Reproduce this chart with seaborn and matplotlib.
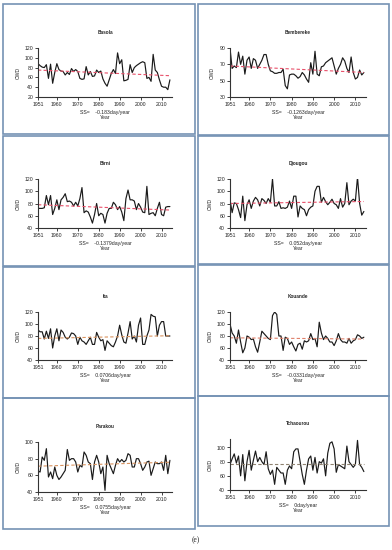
import numpy as np
import pandas as pd
import matplotlib
matplotlib.use("Agg")
import matplotlib.pyplot as plt
from matplotlib.patches import Rectangle
import seaborn as sns

# ---------------- data ----------------
years = list(range(1951, 2015))
stations = ["Basola", "Bembereke", "Birni", "Djougou", "Ita", "Kouande", "Parakou", "Tchaourou"]

basola = [88, 84, 81, 80, 86, 58, 87, 48, 70, 88,
          76, 73, 72, 65, 70, 66, 78, 72, 76, 72,
          58, 56, 57, 82, 65, 72, 62, 63, 75, 70,
          73, 57, 48, 42, 55, 68, 76, 68, 110, 88,
          96, 53, 54, 56, 86, 70, 80, 84, 87, 90,
          92, 90, 58, 60, 52, 107, 75, 70, 55, 42,
          40, 40, 35, 55]
bembereke = [90, 65, 68, 66, 85, 70, 80, 58, 75, 79,
             65, 77, 75, 65, 70, 75, 82, 82, 70, 62,
             61, 59, 59, 60, 60, 64, 44, 40, 57, 58,
             58, 56, 53, 55, 60, 57, 52, 48, 72, 58,
             86, 58, 56, 67, 68, 72, 74, 76, 78, 68,
             58, 65, 70, 78, 74, 65, 60, 79, 60, 52,
             54, 63, 57, 60]
birni = [72, 72, 72, 73, 93, 78, 93, 62, 72, 86,
         70, 86, 90, 96, 83, 84, 82, 76, 82, 76,
         88, 106, 65, 68, 66, 58, 48, 62, 80, 60,
         64, 62, 48, 64, 72, 72, 82, 78, 70, 75,
         66, 52, 88, 102, 86, 86, 84, 70, 80, 74,
         66, 65, 108, 62, 64, 65, 60, 72, 82, 62,
         60, 74, 75, 75]
djougou = [87, 65, 81, 80, 70, 57, 92, 52, 78, 86,
           72, 84, 90, 86, 76, 88, 85, 80, 88, 82,
           120, 76, 76, 83, 72, 73, 72, 74, 84, 72,
           92, 92, 58, 76, 72, 70, 60, 70, 74, 76,
           100, 108, 108, 82, 90, 83, 78, 82, 87, 80,
           78, 72, 88, 74, 80, 114, 78, 84, 87, 84,
           123, 80, 61, 67]
ita = [90, 87, 87, 75, 88, 76, 92, 60, 80, 92,
       72, 90, 86, 78, 75, 78, 85, 84, 80, 66,
       78, 72, 70, 66, 72, 78, 66, 66, 86, 78,
       72, 74, 56, 72, 68, 64, 62, 70, 80, 98,
       82, 70, 68, 85, 104, 75, 80, 70, 98, 110,
       66, 66, 80, 90, 116, 113, 112, 80, 98, 104,
       104, 80, 80, 80]
kouande = [100, 85, 80, 68, 90, 70, 52, 60, 80, 78,
           74, 75, 62, 53, 70, 88, 84, 80, 76, 74,
           114, 120, 116, 80, 80, 56, 78, 76, 66, 70,
           62, 55, 66, 68, 58, 72, 70, 72, 84, 74,
           76, 62, 103, 85, 74, 80, 76, 70, 70, 64,
           72, 84, 74, 70, 70, 68, 76, 68, 72, 74,
           82, 80, 76, 78]
parakou = [65, 64, 82, 78, 92, 58, 64, 56, 70, 60,
           55, 58, 62, 66, 91, 78, 80, 80, 76, 64,
           72, 70, 88, 84, 76, 74, 55, 76, 84, 76,
           62, 70, 42, 84, 74, 68, 62, 72, 80, 76,
           79, 76, 78, 86, 84, 70, 70, 80, 80, 74,
           66, 70, 76, 77, 60, 68, 76, 74, 74, 76,
           66, 84, 62, 78]
tchaourou = [76, 84, 91, 78, 88, 60, 90, 53, 80, 96,
             68, 82, 95, 80, 86, 80, 76, 94, 70, 62,
             68, 48, 72, 68, 64, 64, 48, 68, 74, 70,
             94, 98, 98, 80, 62, 48, 68, 84, 88, 68,
             86, 64, 80, 78, 84, 60, 92, 106, 108, 98,
             65, 76, 74, 72, 70, 102, 80, 76, 72, 76,
             110, 76, 72, 66]

series = [basola, bembereke, birni, djougou, ita, kouande, parakou, tchaourou]
slopes = [-0.183, -0.1263, -0.1379, 0.052, 0.0706, -0.0331, 0.0755, 0.0]
slope_labels = ["-0.183", "-0.1263", "-0.1379", "0.052", "0.0706", "-0.0331", "0.0755", "0"]
trend_start = [75, 68, 78, 80, 76, 77, 71, 76]
y_limits = [(20, 120), (30, 90), (40, 120), (40, 120), (40, 120), (40, 120), (40, 100), (40, 112)]
y_ticks = [[20, 40, 60, 80, 100, 120], [30, 50, 70, 90], [40, 60, 80, 100, 120],
           [40, 60, 80, 100, 120], [40, 60, 80, 100, 120], [40, 60, 80, 100, 120],
           [40, 60, 80, 100], [40, 60, 80, 100]]
x_ticks = [1951, 1960, 1970, 1980, 1990, 2000, 2010]
trend_colors = ["#e8506a", "#e8506a", "#e8506a", "#e8506a",
                "#d9935f", "#e0806a", "#d9935f", "#8f8270"]

# ---------------- style ----------------
sns.set_style("white")
plt.rcParams["font.family"] = ["Liberation Sans", "DejaVu Sans"]

W, H = 392, 550
fig = plt.figure(figsize=(W / 100, H / 100), dpi=100)

# panel boxes (pixel coords: x0, y0, x1, y1)
boxes = [(3, 4, 195, 134), (198, 4, 389, 135),
         (3, 136, 195, 266), (198, 136, 389, 264),
         (3, 267, 195, 398), (198, 265, 389, 396),
         (3, 398, 195, 529), (198, 396, 389, 526)]
# axes positions (pixel coords: left, top, right, bottom)
axpos = [(38, 48, 172, 97), (230, 48, 366, 97),
         (38, 179, 172, 228), (230, 179, 366, 228),
         (38, 312, 172, 360), (230, 312, 366, 360),
         (38, 442, 172, 492), (230, 439, 366, 490)]

fs = 3.4
fs_tick = 3.7
for i, name in enumerate(stations):
    x0, y0, x1, y1 = boxes[i]
    fig.add_artist(Rectangle((x0 / W, 1 - y1 / H), (x1 - x0) / W, (y1 - y0) / H,
                             transform=fig.transFigure, fill=False,
                             edgecolor="#7592b4", lw=1.2))
    l, t, r, b = axpos[i]
    ax = fig.add_axes([l / W, 1 - b / H, (r - l) / W, (b - t) / H])
    df = pd.DataFrame({"Year": years, "CWD": series[i]})
    sns.lineplot(data=df, x="Year", y="CWD", ax=ax, color="#1a1a1a", lw=0.85)
    ty = [trend_start[i], trend_start[i] + slopes[i] * (years[-1] - years[0])]
    ax.plot([years[0], years[-1]], ty, ls=(0, (3, 2)), color=trend_colors[i], lw=0.8)
    ax.set_xlim(1951, 2015)
    ax.set_ylim(*y_limits[i])
    ax.set_xticks(x_ticks)
    ax.set_yticks(y_ticks[i])
    ax.tick_params(axis="both", labelsize=fs_tick, length=2, width=0.6, pad=1.5,
                   colors="#222222", direction="out", left=True, bottom=True)
    for s in ["top", "right"]:
        ax.spines[s].set_visible(False)
    for s in ["left", "bottom"]:
        ax.spines[s].set_linewidth(0.8)
        ax.spines[s].set_color("#333333")
    ax.set_xlabel("")
    ax.set_ylabel("CWD", fontsize=fs_tick, labelpad=3)
    ax.set_title(name, fontsize=fs, fontweight="bold", pad=10)
    ax.annotate("SS=    " + slope_labels[i] + "day/year", xy=(0.5, 0), xycoords="axes fraction",
                xytext=(0, -11), textcoords="offset points", ha="center", va="center", fontsize=fs_tick)
    ax.annotate("Year", xy=(0.5, 0), xycoords="axes fraction",
                xytext=(0, -14.8), textcoords="offset points", ha="center", va="center", fontsize=fs_tick)

fig.text(196 / W, 1 - 540 / H, "(e)", ha="center", va="center", fontsize=5.5,
         family=["Liberation Serif", "DejaVu Serif"])

fig.savefig("out.png", dpi=100)
